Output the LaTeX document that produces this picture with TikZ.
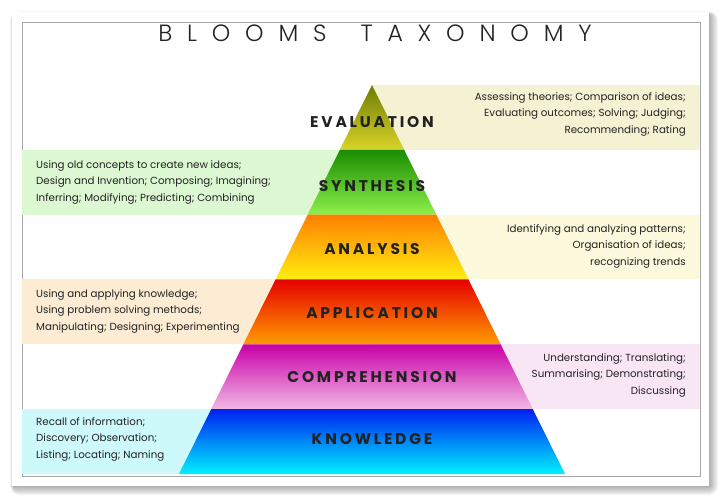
\documentclass[tikz,border=0pt]{standalone}
\usepackage{fontspec}
\setmainfont{Poppins}
\newfontfamily\titlefont[LetterSpace=63]{Poppins Light}
\usetikzlibrary{calc}

\definecolor{ink}{HTML}{222222}
% band gradients, top and bottom
\definecolor{evtop}{HTML}{6E7D05}
\definecolor{evbot}{HTML}{D8D428}
\definecolor{sytop}{HTML}{1A8C00}
\definecolor{sybot}{HTML}{8CF04A}
\definecolor{antop}{HTML}{FF7F00}
\definecolor{anbot}{HTML}{FFEE10}
\definecolor{aptop}{HTML}{E60000}
\definecolor{apbot}{HTML}{FF9C00}
\definecolor{cotop}{HTML}{C800A8}
\definecolor{cobot}{HTML}{F2B8E4}
\definecolor{kntop}{HTML}{0020F0}
\definecolor{knbot}{HTML}{00F0FF}
% side boxes
\definecolor{evbg}{HTML}{F5F2D4}
\definecolor{sybg}{HTML}{DCF8D2}
\definecolor{anbg}{HTML}{FDF9DC}
\definecolor{apbg}{HTML}{FCECD3}
\definecolor{cobg}{HTML}{F8E6F5}
\definecolor{knbg}{HTML}{CDF9FB}

\begin{document}
\begin{tikzpicture}[
  x=1pt, y=-1pt,
  every node/.style={text=ink},
  level/.style={font=\bfseries\fontsize{15.5}{15.5}\selectfont\addfontfeature{LetterSpace=18}, inner sep=0pt},
  note/.style={font=\fontsize{10.3}{16.5}\selectfont, inner sep=0pt},
  noteleft/.style={note, align=left, anchor=west},
  noteright/.style={note, align=right, anchor=east}
]
\useasboundingbox (0,0) rectangle (720,502);

% card with soft shadow
\foreach \k in {1,...,9}
  \fill[black, opacity=0.04, rounded corners=\k pt] (12-\k*0.4+2,12-\k*0.4+3) rectangle (709+\k,486+\k);
\fill[white] (12,12) rectangle (709,486);
\draw[gray!70, line width=0.8pt] (22,22) rectangle (700,476);

\node (title) at (375,33) {\titlefont\fontsize{23.5}{23.5}\selectfont BLOOMS\hspace{34pt}TAXONOMY};

% side boxes
\fill[evbg] (372,85) rectangle (700,149.83);
\fill[sybg] (22,149.83) rectangle (372,214.67);
\fill[anbg] (372,214.67) rectangle (700,279.5);
\fill[apbg] (22,279.5) rectangle (372,344.33);
\fill[cobg] (372,344.33) rectangle (700,409.17);
\fill[knbg] (22,409.17) rectangle (372,474);

% pyramid
\coordinate (apex) at (372,85);
\coordinate (bl) at (179,474);
\coordinate (br) at (565,474);
\foreach \i/\ctop/\cbot in {0/evtop/evbot, 1/sytop/sybot, 2/antop/anbot,
                            3/aptop/apbot, 4/cotop/cobot, 5/kntop/knbot}
{
  \pgfmathsetmacro{\j}{\i+1}
  \shade[top color=\ctop, bottom color=\cbot]
    ($(apex)!\i/6!(bl)$) -- ($(apex)!\i/6!(br)$) -- ($(apex)!\j/6!(br)$) -- ($(apex)!\j/6!(bl)$) -- cycle;
}

\node[level] (evaluation)    at (372,122) {EVALUATION};
\node[level] (synthesis)     at (372,186) {SYNTHESIS};
\node[level] (analysis)      at (372,249) {ANALYSIS};
\node[level] (application)   at (372,313) {APPLICATION};
\node[level] (comprehension) at (372,377) {COMPREHENSION};
\node[level] (knowledge)     at (372,439) {KNOWLEDGE};

\node[noteright] (evalnote) at (686,114)
  {Assessing theories; Comparison of ideas;\\Evaluating outcomes; Solving; Judging;\\Recommending; Rating};
\node[noteleft] (synthnote) at (36,182)
  {Using old concepts to create new ideas;\\Design and Invention; Composing; Imagining;\\Inferring; Modifying; Predicting; Combining};
\node[noteright] (analnote) at (686,246)
  {Identifying and analyzing patterns;\\Organisation of ideas;\\recognizing trends};
\node[noteleft] (applnote) at (36,311)
  {Using and applying knowledge;\\Using problem solving methods;\\Manipulating; Designing; Experimenting};
\node[noteright] (compnote) at (686,375)
  {Understanding; Translating;\\Summarising; Demonstrating;\\Discussing};
\node[noteleft] (knownote) at (36,439)
  {Recall of information;\\Discovery; Observation;\\Listing; Locating; Naming};
\end{tikzpicture}
\end{document}
